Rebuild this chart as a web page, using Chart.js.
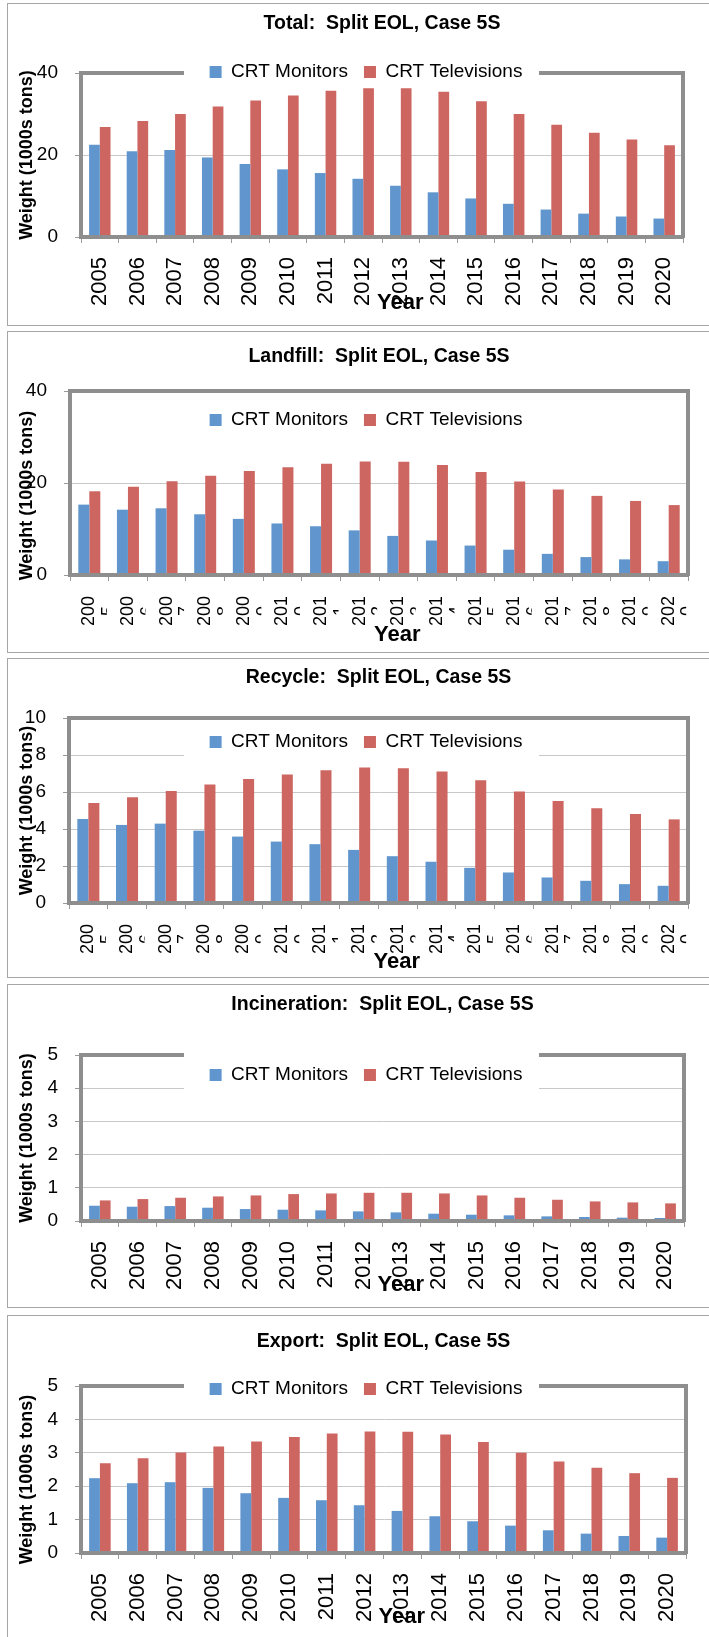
<!DOCTYPE html>
<html>
<head>
<meta charset="utf-8">
<title>CRT split EOL, case 5S</title>
<script src="https://cdn.jsdelivr.net/npm/chart.js@4.4.1/dist/chart.umd.min.js"></script>
<style>
  html, body { margin: 0; padding: 0; background: #fff; }
  body { width: 709px; height: 1637px; overflow: hidden; position: relative; }
  .panel { position: absolute; left: 7px; width: 760px; border: 1px solid #a6a6a6; background: #fff; }
  .panel canvas { display: block; }
</style>
</head>
<body>
<script>
// ============ Data ============
const years = ["2005","2006","2007","2008","2009","2010","2011","2012","2013","2014","2015","2016","2017","2018","2019","2020"];
const seriesNames = ["CRT Monitors", "CRT Televisions"];

const totalMonitors    = [22.5, 20.9, 21.2, 19.4, 17.8, 16.5, 15.6, 14.2, 12.5, 10.9, 9.4, 8.1, 6.7, 5.7, 5.0, 4.5];
const totalTVs         = [26.8, 28.3, 30.0, 31.8, 33.3, 34.5, 35.7, 36.3, 36.3, 35.4, 33.1, 30.0, 27.4, 25.4, 23.8, 22.4];
const landfillMonitors = [15.3, 14.2, 14.5, 13.2, 12.2, 11.2, 10.6, 9.7, 8.5, 7.5, 6.4, 5.5, 4.6, 3.9, 3.4, 3.0];
const landfillTVs      = [18.2, 19.2, 20.4, 21.6, 22.6, 23.4, 24.2, 24.7, 24.6, 23.9, 22.4, 20.3, 18.6, 17.2, 16.1, 15.2];
const recycleMonitors  = [4.54, 4.22, 4.29, 3.91, 3.59, 3.32, 3.18, 2.87, 2.53, 2.23, 1.90, 1.65, 1.38, 1.20, 1.02, 0.93];
const recycleTVs       = [5.40, 5.71, 6.05, 6.41, 6.70, 6.95, 7.18, 7.32, 7.29, 7.11, 6.64, 6.03, 5.51, 5.12, 4.81, 4.52];
const incinMonitors    = [0.46, 0.43, 0.45, 0.40, 0.36, 0.34, 0.32, 0.29, 0.26, 0.22, 0.19, 0.17, 0.14, 0.12, 0.10, 0.09];
const incinTVs         = [0.62, 0.66, 0.70, 0.74, 0.77, 0.81, 0.83, 0.85, 0.85, 0.83, 0.77, 0.70, 0.64, 0.59, 0.56, 0.53];
const exportMonitors   = [2.24, 2.09, 2.12, 1.95, 1.79, 1.65, 1.58, 1.43, 1.26, 1.10, 0.95, 0.82, 0.68, 0.58, 0.51, 0.46];
const exportTVs        = [2.69, 2.84, 3.01, 3.19, 3.34, 3.47, 3.58, 3.64, 3.63, 3.55, 3.32, 3.00, 2.74, 2.55, 2.39, 2.25];

const chartTitles = [
  "Total:  Split EOL, Case 5S",
  "Landfill:  Split EOL, Case 5S",
  "Recycle:  Split EOL, Case 5S",
  "Incineration:  Split EOL, Case 5S",
  "Export:  Split EOL, Case 5S"
];
const yMax  = [40, 40, 10, 5, 5];
const yStep = [20, 20, 2, 1, 1];
const yTitle = "Weight (1000s tons)";
const xTitle = "Year";

const seriesData = [
  [totalMonitors, totalTVs],
  [landfillMonitors, landfillTVs],
  [recycleMonitors, recycleTVs],
  [incinMonitors, incinTVs],
  [exportMonitors, exportTVs]
];

// ============ Layout (page px) ============
const LAYOUT = [
  { top: 3,    h: 321, plot: [81, 683, 73, 237],    titleY: 24,   legendY: 72,   patch: [52, 90],     yearY: 303,  yShift: 0, split: false },
  { top: 331,  h: 320, plot: [70, 688, 391, 575],   titleY: 357,  legendY: 420,  patch: [404, 436],   yearY: 635,  yShift: 5, split: true  },
  { top: 658,  h: 318, plot: [69, 688, 718, 903],   titleY: 678,  legendY: 742,  patch: [726, 758],   yearY: 962,  yShift: 0, split: true  },
  { top: 984,  h: 322, plot: [81, 684, 1055, 1221], titleY: 1005, legendY: 1075, patch: [1050, 1092], yearY: 1285, yShift: 0, split: false },
  { top: 1315, h: 340, plot: [81, 686, 1386, 1553], titleY: 1342, legendY: 1389, patch: [1370, 1405], yearY: 1617, yShift: 4, split: false }
];

const CANVAS_W = 760;
const BLUE = "#6096cd", RED = "#cd6560";
const BORDER = "#8e8e8e", GRID = "#c8c8c8", TICK = "#9a9a9a";
const TITLE_PX = 19.5, YEAR_PX = 22, LEGEND_PX = 19, LEGEND_GAP = 16;
const LEGEND_X = [184, 539];   // white patch behind legend (page x)
const LEGEND_CX = 366;         // legend items centre (page x)

Chart.defaults.font.family = "'Liberation Sans', Arial, sans-serif";
Chart.defaults.color = "#000";

// legend sits on top of the plot frame, over a white patch (like Excel)
const legendPatch = {
  id: "legendPatch",
  afterLayout(chart, args, o) {
    const lg = chart.legend;
    const w = lg.right - lg.left;
    lg.top = o.cy - LEGEND_GAP - LEGEND_PX / 2;
    lg.height = LEGEND_PX + 2 * LEGEND_GAP + 10;   // legend clips to its own box
    lg.bottom = lg.top + lg.height;
    lg.left = o.cx - w / 2;
    lg.right = lg.left + w;
  },
  beforeDatasetsDraw(chart, args, o) {
    const ctx = chart.ctx;
    ctx.save();
    ctx.fillStyle = "#fff";
    ctx.fillRect(o.x0, o.y0, o.x1 - o.x0, o.y1 - o.y0);
    ctx.restore();
    chart.legend.draw();
  }
};

// the wrapped year labels get cut off in the original; clip the second line
const tickClip = {
  id: "tickClip",
  beforeDraw(chart, args, o) {
    if (!o.on) return;
    const sc = chart.scales.x;
    if (sc._clipped) return;
    const base = sc.drawLabels;
    sc.drawLabels = function (area) {
      const ctx = chart.ctx;
      ctx.save();
      ctx.beginPath();
      for (let i = 0; i < sc.ticks.length; i++) {
        const px = sc.getPixelForTick(i);
        ctx.rect(px - 9, sc.top, 26.5, sc.bottom - sc.top);
      }
      ctx.clip();
      base.call(sc, area);
      ctx.restore();
    };
    sc._clipped = true;
  }
};

// ============ Charts ============
LAYOUT.forEach((L, i) => {
  const div = document.createElement("div");
  div.className = "panel";
  div.style.top = L.top + "px";
  div.style.height = L.h + "px";
  const cv = document.createElement("canvas");
  cv.width = CANVAS_W; cv.height = L.h;
  div.appendChild(cv);
  document.body.appendChild(div);

  const ox = 8, oy = L.top + 1;                 // canvas origin on the page
  const left = L.plot[0] - ox, right = L.plot[1] - ox;
  const top = L.plot[2] - oy, bottom = L.plot[3] - oy;
  const tLH = TITLE_PX * 1.2;
  const tPadTop = (L.titleY - oy) - tLH / 2;
  const tPadBottom = top - 1 - tLH - tPadTop;   // legend box takes 1px
  const xH = (L.yearY - oy) - bottom + YEAR_PX * 1.2 / 2;

  new Chart(cv, {
    type: "bar",
    data: {
      labels: years,
      datasets: [
        { label: seriesNames[0], data: seriesData[i][0], backgroundColor: BLUE, borderWidth: 0 },
        { label: seriesNames[1], data: seriesData[i][1], backgroundColor: RED,  borderWidth: 0 }
      ]
    },
    options: {
      responsive: false,
      animation: false,
      layout: { padding: { left: 0, top: 0, right: CANVAS_W - right, bottom: L.h - bottom - xH } },
      datasets: { bar: { categoryPercentage: 0.57, barPercentage: 1 } },
      plugins: {
        title: {
          display: true, fullSize: false, text: chartTitles[i], color: "#000",
          font: { size: TITLE_PX, weight: "bold" },
          padding: { top: tPadTop, bottom: tPadBottom }
        },
        legend: {
          display: true, position: "top", maxHeight: 1,
          labels: { boxWidth: 12, boxHeight: 12, padding: LEGEND_GAP, color: "#000", font: { size: LEGEND_PX } }
        },
        tooltip: { enabled: false },
        legendPatch: {
          cx: LEGEND_CX - ox, cy: L.legendY - oy,
          x0: LEGEND_X[0] - ox, x1: LEGEND_X[1] - ox,
          y0: L.patch[0] - oy, y1: L.patch[1] - oy
        },
        tickClip: { on: L.split }
      },
      scales: {
        x: {
          offset: true,
          grid: { display: true, offset: true, drawOnChartArea: false, drawTicks: true, tickLength: 6, color: TICK, tickColor: TICK },
          border: { display: true, width: 4, color: BORDER, z: 1 },
          ticks: {
            autoSkip: false, minRotation: 90, maxRotation: 90, padding: L.split ? 15 : 14, color: "#000",
            font: { size: L.split ? 18 : 22, lineHeight: 1.1 },
            callback(v) {
              const s = this.getLabelForValue(v);
              return L.split ? [s.slice(0, 3), s.slice(3) + "  "] : s;
            }
          },
          title: {
            display: true, text: "      " + xTitle, color: "#000",
            font: { size: YEAR_PX, weight: "bold" }, padding: { top: 0, bottom: 0 }
          },
          afterFit(s) { s.height = xH; }
        },
        y: {
          min: 0, max: yMax[i],
          grid: { color: GRID, tickColor: TICK, tickLength: 6, drawTicks: true },
          border: { display: true, width: 4, color: BORDER },
          ticks: { stepSize: yStep[i], padding: 17, color: "#000", font: { size: 19 } },
          title: {
            display: true, text: yTitle + " ".repeat(L.yShift), color: "#000",
            font: { size: 18, weight: "bold" }, padding: { top: 8, bottom: 0 }
          },
          afterFit(s) { s.width = left; }
        },
        // top and right edges of the plot frame
        x2: {
          type: "category", labels: years, position: "top", offset: true,
          grid: { display: false, drawTicks: false }, ticks: { display: false },
          border: { display: true, width: 4, color: BORDER },
          afterFit(s) { s.height = 0; }
        },
        y2: {
          type: "linear", position: "right",
          grid: { display: false, drawTicks: false }, ticks: { display: false },
          border: { display: true, width: 4, color: BORDER },
          afterFit(s) { s.width = 0; }
        }
      }
    },
    plugins: [legendPatch, tickClip]
  });
});
</script>
</body>
</html>
